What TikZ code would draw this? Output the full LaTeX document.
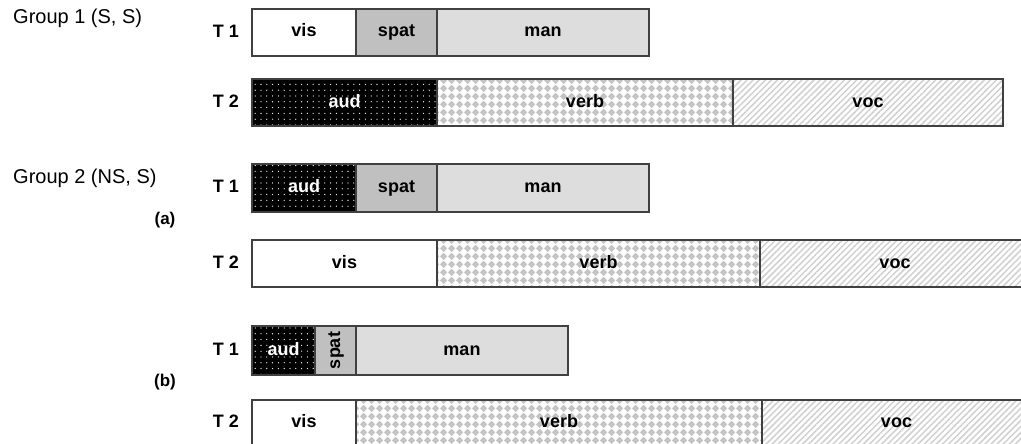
\documentclass[tikz,border=0pt]{standalone}
\usepackage{fontspec}
\setmainfont{Liberation Sans}
\usetikzlibrary{patterns,patterns.meta}

% diagonal checkerboard (diamonds touching at their corners)
\pgfdeclarepatternformonly{checkdiamond}{\pgfqpoint{0pt}{0pt}}{\pgfqpoint{8pt}{8pt}}{\pgfqpoint{8pt}{8pt}}{%
  \pgfpathmoveto{\pgfqpoint{4pt}{0pt}}%
  \pgfpathlineto{\pgfqpoint{8pt}{4pt}}%
  \pgfpathlineto{\pgfqpoint{4pt}{8pt}}%
  \pgfpathlineto{\pgfqpoint{0pt}{4pt}}%
  \pgfpathclose\pgfusepath{fill}}

\definecolor{edge}{HTML}{404040}
\definecolor{spatgray}{HTML}{C0C0C0}
\definecolor{mangray}{HTML}{DDDDDD}
\definecolor{verbgray}{HTML}{C4C4C4}
\definecolor{vocgray}{HTML}{D0D0D0}

% one segment of a bar: name, style, x1, x2, y1, y2, label
\newcommand\barseg[7]{%
  \pgfmathsetmacro\segw{#4-#3}\pgfmathsetmacro\segh{#6-#5}%
  \node[#2, anchor=north west, minimum width=\segw pt, minimum height=\segh pt] (#1) at (#3,#5) {#7};}

\tikzset{
  labelfont/.style={text height=12.6pt, text depth=3.6pt,
    font=\fontsize{18}{18}\selectfont\bfseries},
  seg/.style={draw=edge, line width=1.3pt, inner sep=0pt, outer sep=0pt,
    labelfont, text=black},
  visbox/.style={seg, fill=white},
  spatbox/.style={seg, fill=spatgray},
  manbox/.style={seg, fill=mangray},
  audbox/.style={seg, preaction={fill=black},
    pattern={Dots[distance=5.8pt, radius=0.65pt]}, pattern color=white, text=white},
  verbbox/.style={seg, preaction={fill=white}, pattern=checkdiamond, pattern color=verbgray},
  vocbox/.style={seg, preaction={fill=white},
    pattern={Lines[angle=45, distance=4.3pt, line width=1.5pt]}, pattern color=vocgray},
  uptext/.style={labelfont, inner sep=0pt, rotate=90},
  tlabel/.style={anchor=east, inner sep=0pt, text height=12.6pt, text depth=3pt,
    font=\fontsize{18}{18}\selectfont\bfseries},
  grouplabel/.style={anchor=west, inner sep=0pt, font=\fontsize{20}{20}\selectfont},
  caselabel/.style={inner sep=0pt, font=\fontsize{17}{17}\selectfont\bfseries},
}

\begin{document}
\begin{tikzpicture}[x=1pt, y=-1pt]
  \useasboundingbox (0,0) rectangle (1021,444);
  \fill[white] (0,0) rectangle (1021,444);

  % Group 1
  \node[grouplabel] (g1) at (13,18) {Group 1 (S, S)};
  \node[tlabel] (g1t1) at (239,32.5) {T 1};
  \barseg{g1vis}{visbox}{252}{356}{9}{56}{vis}
  \barseg{g1spat}{spatbox}{356}{437}{9}{56}{spat}
  \barseg{g1man}{manbox}{437}{649}{9}{56}{man}
  \node[tlabel] (g1t2) at (239,102.5) {T 2};
  \barseg{g1aud}{audbox}{252}{437}{79}{126}{aud}
  \barseg{g1verb}{verbbox}{437}{733}{79}{126}{verb}
  \barseg{g1voc}{vocbox}{733}{1003}{79}{126}{voc}

  % Group 2, case (a)
  \node[grouplabel] (g2) at (13,178) {Group 2 (NS, S)};
  \node[caselabel] (ca) at (165,220) {(a)};
  \node[tlabel] (at1) at (239,188) {T 1};
  \barseg{aaud}{audbox}{252}{356}{164}{212}{aud}
  \barseg{aspat}{spatbox}{356}{437}{164}{212}{spat}
  \barseg{aman}{manbox}{437}{649}{164}{212}{man}
  \node[tlabel] (at2) at (239,263.5) {T 2};
  \barseg{avis}{visbox}{252}{437}{240}{287}{vis}
  \barseg{averb}{verbbox}{437}{760}{240}{287}{verb}
  \barseg{avoc}{vocbox}{760}{1030}{240}{287}{voc}

  % Group 2, case (b)
  \node[caselabel] (cb) at (165,382) {(b)};
  \node[tlabel] (bt1) at (239,350.5) {T 1};
  \barseg{baud}{audbox}{252}{315}{326}{375}{aud}
  \barseg{bspat}{spatbox}{315}{356}{326}{375}{}
  \node[uptext] (bspattext) at (bspat.center) {spat};
  \barseg{bman}{manbox}{356}{568}{326}{375}{man}
  \node[tlabel] (bt2) at (239,423) {T 2};
  \barseg{bvis}{visbox}{252}{356}{400}{446}{vis}
  \barseg{bverb}{verbbox}{356}{762}{400}{446}{verb}
  \barseg{bvoc}{vocbox}{762}{1031}{400}{446}{voc}
\end{tikzpicture}
\end{document}
